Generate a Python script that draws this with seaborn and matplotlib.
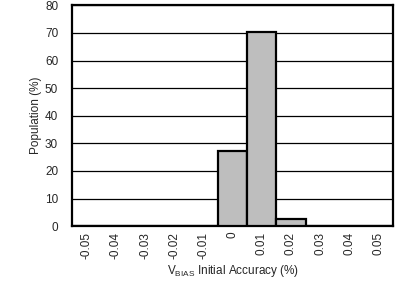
import matplotlib
matplotlib.use("Agg")
import matplotlib.pyplot as plt
import seaborn as sns
import pandas as pd
import numpy as np
from matplotlib.ticker import FixedLocator

categories = ["-0.05", "-0.04", "-0.03", "-0.02", "-0.01", "0", "0.01", "0.02", "0.03", "0.04", "0.05"]
population = [0, 0, 0, 0, 0, 27.2, 70.4, 2.5, 0, 0, 0]
yticks = [0, 10, 20, 30, 40, 50, 60, 70, 80]

sns.set_style("white")
plt.rcParams['font.family'] = ['Liberation Sans', 'DejaVu Sans']

df = pd.DataFrame({"cat": categories, "pop": population})

fig = plt.figure(figsize=(4.07, 2.83), dpi=100)
ax = fig.add_axes([0.177, 0.201, 0.789, 0.780])

sns.barplot(data=df, x="cat", y="pop", order=categories, color="#BEBEBE",
            width=1.0, edgecolor="black", linewidth=1.6, saturation=1, ax=ax, zorder=3)

ax.set_ylim(0, 80)
ax.set_xlim(-0.5, len(categories) - 0.5)
ax.set_yticks(yticks)
ax.yaxis.grid(True, color="black", linewidth=0.9)
ax.set_axisbelow(True)
for b in ax.patches:
    b.set_zorder(3)

ax.tick_params(axis="y", length=0, labelsize=8.5, pad=10)
ax.tick_params(axis="x", which="major", length=0, labelsize=8.5, rotation=90, pad=4)
ax.xaxis.set_minor_locator(FixedLocator(np.arange(-0.5, len(categories), 1.0)))
ax.tick_params(axis="x", which="minor", length=3.5, width=1.5, direction="out", color="black")

for s in ax.spines.values():
    s.set_linewidth(1.6)
    s.set_color("black")

ax.set_ylabel("Population (%)", fontsize=8.5, labelpad=2)
ax.set_xlabel(r"V$_{\mathregular{BIAS}}$ Initial Accuracy (%)", fontsize=8.5, labelpad=3)

fig.savefig("out.png", dpi=100)
